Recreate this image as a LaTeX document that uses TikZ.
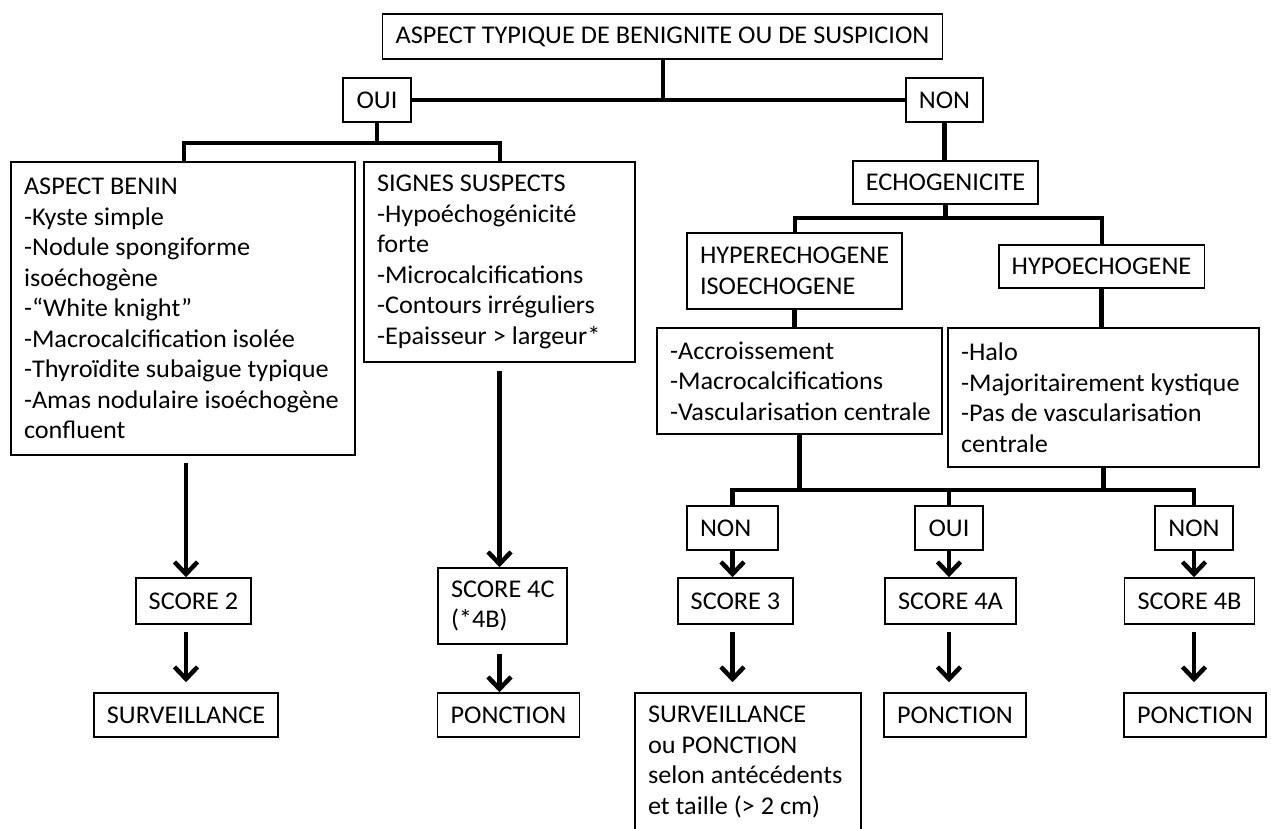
\documentclass[tikz,border=0pt]{standalone}
\usepackage{fontspec}
\setmainfont{Carlito}[FakeStretch=1.03]
\usetikzlibrary{arrows.meta}
\newcommand{\boxfont}{\fontsize{25.5}{30.5}\selectfont}
\tikzset{
  box/.style={draw, line width=1.6pt, inner xsep=13pt, inner ysep=0pt, align=flush left, font=\boxfont,
    execute at begin node={\spaceskip=0pt\relax\xspaceskip=0pt\relax}},
  conn/.style={line width=4.5pt},
  arr/.style={line width=4.5pt, -{Straight Barb[length=12pt, width=23pt]}}
}
\begin{document}
\begin{tikzpicture}[x=1pt, y=-1pt]
\useasboundingbox (0,0) rectangle (1271,829);
\fill[white] (0,0) rectangle (1271,829);
\clip (0,0) rectangle (1271,829);

% boxes
\node[box, minimum width=555pt, minimum height=45pt] (top) at (662.5,36.5) {ASPECT TYPIQUE DE BENIGNITE OU DE SUSPICION};
\node[box, minimum width=68pt, minimum height=44pt] (oui) at (377,100) {OUI};
\node[box, minimum width=77pt, minimum height=44pt] (non) at (944.5,100) {NON};

\node[box, minimum width=344pt, minimum height=293pt, text width=318pt] (benin) at (183,308.5)
  {\mbox{ASPECT BENIN}\\\mbox{-Kyste simple}\\\mbox{-Nodule spongiforme}\\isoéchogène\\\mbox{-“White knight”}\\\mbox{-Macrocalcification isolée}\\\mbox{-Thyroïdite subaigue typique}\\\mbox{-Amas nodulaire isoéchogène}\\confluent};
\node[box, minimum width=271pt, minimum height=200pt, text width=245pt] (signes) at (499.5,262)
  {\mbox{SIGNES SUSPECTS}\\\mbox{-Hypoéchogénicité}\\forte\\\mbox{-Microcalcifications}\\\mbox{-Contours irréguliers}\\\mbox{-Epaisseur > largeur*}};

\node[box, minimum width=185pt, minimum height=43pt] (echo) at (945.5,182.5) {ECHOGENICITE};
\node[box, minimum width=215pt, minimum height=76pt, text width=189pt] (hyper) at (794.5,271) {HYPERECHOGENE\\ISOECHOGENE};
\node[box, minimum width=205pt, minimum height=43pt] (hypo) at (1101.5,266.5) {HYPOECHOGENE};
\node[box, minimum width=285pt, minimum height=106pt, text width=259pt] (listL) at (799.5,381)
  {\mbox{-Accroissement}\\\mbox{-Macrocalcifications}\\\mbox{-Vascularisation centrale}};
\node[box, minimum width=311pt, minimum height=139pt, text width=285pt] (listR) at (1103.5,397.5)
  {\mbox{-Halo}\\\mbox{-Majoritairement kystique}\\\mbox{-Pas de vascularisation}\\centrale};

\node[box, minimum width=91pt, minimum height=44pt, text width=65pt] (non1) at (732.5,528) {NON};
\node[box, minimum width=68pt, minimum height=44pt] (oui2) at (949,528) {OUI};
\node[box, minimum width=78pt, minimum height=44pt] (non2) at (1194,528) {NON};

\node[box, minimum width=115pt, minimum height=46pt] (score2) at (193.5,601) {SCORE 2};
\node[box, minimum width=129pt, minimum height=76pt, text width=103pt] (score4c) at (502.5,606) {\mbox{SCORE 4C}\\(*4B)};
\node[box, minimum width=115pt, minimum height=46pt] (score3) at (735.5,601) {SCORE 3};
\node[box, minimum width=131pt, minimum height=46pt] (score4a) at (950.5,601) {SCORE 4A};
\node[box, minimum width=129pt, minimum height=46pt] (score4b) at (1189.5,601) {SCORE 4B};

\node[box, minimum width=184pt, minimum height=44pt] (surv) at (186,715) {SURVEILLANCE};
\node[box, minimum width=141pt, minimum height=44pt] (ponc1) at (508.5,715) {PONCTION};
\node[box, minimum width=226pt, minimum height=138pt, text width=200pt] (survponc) at (748,762)
  {SURVEILLANCE\\\mbox{ou PONCTION}\\\mbox{selon antécédents}\\\mbox{et taille (> 2 cm)}};
\node[box, minimum width=140pt, minimum height=44pt] (ponc2) at (955,715) {PONCTION};
\node[box, minimum width=140pt, minimum height=44pt] (ponc3) at (1195,715) {PONCTION};

% connectors
\coordinate (j1) at (663,100);
\draw[conn] (top.south -| j1) -- (j1);
\draw[conn] (oui.east) -- (non.west);

\coordinate (bL) at (184,143);
\coordinate (bR) at (500,143);
\draw[conn] (oui.south) -- (oui.south |- bL);
\draw[conn] (benin.north -| bL) -- (bL) -- (bR) -- (signes.north -| bR);

\draw[conn] (non.south) -- (echo.north -| non.south);
\coordinate (eL) at (795,218);
\coordinate (eR) at (1102,218);
\draw[conn] (echo.south) -- (echo.south |- eL);
\draw[conn] (hyper.north -| eL) -- (eL) -- (eR) -- (hypo.north -| eR);
\draw[conn] (hyper.south) -- (listL.north -| hyper.south);
\draw[conn] (hypo.south) -- (listR.north -| hypo.south);

\coordinate (nL) at (732.5,490);
\coordinate (nM) at (949,490);
\coordinate (nR) at (1194,490);
\draw[conn] (listL.south) -- (listL.south |- nL);
\draw[conn] (listR.south) -- (listR.south |- nL);
\draw[conn] (non1.north) -- (nL) -- (nR) -- (non2.north);
\draw[conn] (oui2.north) -- (nM);

% arrows
\draw[arr, shorten <=7pt] (benin.south -| surv.north) -- (score2.north -| surv.north);
\draw[arr, shorten <=7pt, shorten >=10pt] (score2.south -| surv.north) -- (surv.north);
\draw[arr, shorten <=8pt] (signes.south) -- (score4c.north -| signes.south);
\draw[arr, shorten <=9pt] (score4c.south -| signes.south) -- (ponc1.north -| signes.south);
\draw[arr] (non1.south) -- (score3.north -| non1.south);
\draw[arr, shorten <=7pt, shorten >=10pt] (score3.south -| non1.south) -- (survponc.north -| non1.south);
\draw[arr] (oui2.south) -- (score4a.north -| oui2.south);
\draw[arr, shorten <=7pt, shorten >=10pt] (score4a.south -| oui2.south) -- (ponc2.north -| oui2.south);
\draw[arr] (non2.south) -- (score4b.north -| non2.south);
\draw[arr, shorten <=7pt, shorten >=10pt] (score4b.south -| non2.south) -- (ponc3.north -| non2.south);
\end{tikzpicture}
\end{document}
